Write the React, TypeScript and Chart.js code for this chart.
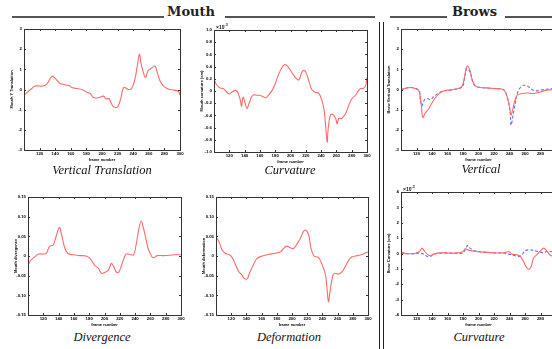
import React, { useEffect, useRef } from "react";
import { Chart, registerables } from "chart.js";
Chart.register(...registerables);

// ---------- data ----------
const xTickMin = 100;
const xTickMax = 300;
const xTickStep = 20;

// Mouth – Vertical Translation
const mvFrames = [100,110,114,124,129,136,140,146,150,155,159,161,168,174,180,185,189,195,202,205,209,212,215,220,224,228,234,238,242,245,248,250,254,256,259,264,268,270,274,279,285,292,298,300];
const mvValues = [-0.28,0.05,0.17,0.17,0.26,0.66,0.55,0.30,0.26,0.21,0.17,0.10,0.05,0,-0.12,-0.20,-0.40,-0.41,-0.33,-0.46,-0.46,-0.69,-0.86,-0.86,-0.45,0.10,0,0.05,0.46,1.12,1.75,1.29,0.71,0.60,0.93,1.07,1.16,0.96,0.46,0.17,0.03,-0.03,-0.10,-0.28];

// Mouth – Curvature (x10^-3)
const mcFrames = [100,103,108,112,117,120,123,128,131,134,136,138,141,143,146,149,152,156,160,165,168,171,176,180,184,189,192,195,200,204,208,211,215,218,221,225,228,232,237,241,244,246,248,249,252,255,259,261,263,267,272,276,280,285,289,292,295,298,300];
const mcValues = [0.20,0.11,0.05,0.04,-0.02,-0.05,-0.02,0.01,-0.02,-0.13,-0.25,-0.10,-0.21,-0.29,-0.20,-0.10,-0.06,-0.07,-0.07,-0.10,-0.11,-0.07,0.01,0.12,0.26,0.39,0.43,0.42,0.34,0.26,0.20,0.18,0.31,0.34,0.28,0.12,0.02,-0.02,-0.04,-0.15,-0.32,-0.59,-0.84,-0.65,-0.40,-0.38,-0.45,-0.54,-0.45,-0.45,-0.37,-0.24,-0.13,-0.07,0.01,0.04,0.04,0.08,0.22];

// Brows – Vertical (red = left, blue = right)
const bvRedFrames = [100,106,112,118,123,126,128,131,136,142,149,155,161,168,174,179,182,184,186,189,192,196,202,211,220,228,233,237,240,242,244,247,250,256,263,271,280,288,300];
const bvRedValues = [0,0.05,0.10,0.05,-0.07,-0.69,-1.39,-1.19,-0.94,-0.53,-0.20,-0.07,-0.03,0,0.05,0.17,0.63,1.04,1.16,0.96,0.46,0.17,0.10,0.08,0.05,0.03,-0.03,-0.36,-0.86,-1.27,-1.02,-0.53,-0.28,-0.20,-0.17,-0.20,-0.12,-0.03,0];
const bvBlueFrames = [100,112,123,125,127,130,134,138,142,149,155,168,179,182,185,189,192,196,202,220,233,238,241,242,245,250,254,258,263,269,275,284,300];
const bvBlueValues = [0,0.10,-0.03,-0.53,-0.83,-0.53,-0.45,-0.50,-0.36,-0.17,-0.07,0,0.13,0.55,1.04,0.88,0.46,0.17,0.10,0.05,-0.03,-0.53,-1.19,-1.77,-1.19,-0.20,0.10,0.21,0.17,0,-0.07,0,0.05];

// Mouth – Divergence
const mdFrames = [100,104,109,114,120,124,128,133,136,141,144,148,152,159,168,176,181,187,192,196,200,205,209,212,216,219,224,228,233,238,242,245,248,251,254,257,262,265,269,277,286,292,300];
const mdValues = [-0.023,-0.010,-0.002,0.005,0.005,0.007,0.024,0.028,0.045,0.073,0.053,0.021,0.007,0.003,0.001,0,-0.006,-0.023,-0.031,-0.044,-0.042,-0.036,-0.019,-0.027,-0.042,-0.040,-0.014,0.005,0.004,0.003,0.036,0.070,0.089,0.070,0.045,0.019,-0.002,-0.004,0.001,0.001,0.002,0.003,0.003];

// Mouth – Deformation
const mfFrames = [100,104,108,112,118,122,125,130,134,137,141,144,150,154,161,169,178,185,189,193,198,202,207,211,215,218,222,225,229,235,239,244,246,248,250,254,257,261,266,270,275,279,286,292,300];
const mfValues = [0.049,0.036,0.015,0.007,0.003,-0.006,-0.019,-0.040,-0.048,-0.057,-0.058,-0.044,-0.019,-0.006,0,0.004,0.007,0.011,0.019,0.025,0.021,0.019,0.032,0.045,0.062,0.066,0.053,0.019,0,-0.004,-0.019,-0.048,-0.082,-0.116,-0.090,-0.048,-0.044,-0.046,-0.040,-0.027,-0.010,-0.002,0.001,0.004,0.011];

// Brows – Curvature (x10^-3)
const bcRedFrames = [100,106,112,118,124,127,130,134,138,142,149,157,166,172,179,183,187,196,207,220,232,239,241,243,250,254,258,262,265,268,271,275,280,284,288,293,300];
const bcRedValues = [0.09,0,-0.02,0,0.13,0.35,0.17,-0.04,-0.15,-0.04,0.04,0.04,0.02,0.04,0.09,0.30,0.22,0.13,0.09,0.04,0.04,0.13,0.06,-0.04,-0.09,-0.19,-0.52,-0.91,-1.02,-0.84,-0.30,-0.09,0.17,0.35,0.17,-0.13,-0.19];
const bcBlueFrames = [100,112,118,124,129,134,138,142,155,168,177,181,186,189,196,207,220,232,239,243,252,256,260,267,273,280,284,288,300];
const bcBlueValues = [0.02,-0.02,0,0.02,-0.04,-0.19,-0.19,-0.04,0.02,0.02,0,0.09,0.52,0.35,0.17,0.09,0.04,0.04,-0.04,-0.09,-0.19,-0.09,0.17,0.24,0.17,0.09,0.04,0.13,0.09];

const headings = ["Mouth", "Brows"];
const captions = ["Vertical Translation", "Curvature", "Vertical", "Divergence", "Deformation", "Curvature"];
const yTitles = ["Mouth Y Translation", "Mouth curvature (cm)", "Brow Vertical Translation", "Mouth divergence", "Mouth deformation", "Brow Curvature (cm)"];
const xTitle = "frame number";

// ---------- styling ----------
const RED = "#ff6a6a";
const BLUE = "#6a6aff";
const L = 15, T = 8, R = 6, B = 12;

const framePlugin = {
  id: "frameBox",
  afterDraw(chart: any) {
    const { ctx, chartArea: a, scales } = chart;
    const x = scales.x, y = scales.y;
    ctx.save();
    ctx.strokeStyle = "#333";
    ctx.lineWidth = 1;
    ctx.strokeRect(Math.round(a.left) + 0.5, Math.round(a.top) + 0.5, Math.round(a.right - a.left), Math.round(a.bottom - a.top));
    ctx.beginPath();
    x.ticks.forEach((t: any) => {
      const p = Math.round(x.getPixelForValue(t.value)) + 0.5;
      ctx.moveTo(p, a.bottom); ctx.lineTo(p, a.bottom - 2);
      ctx.moveTo(p, a.top); ctx.lineTo(p, a.top + 2);
    });
    y.ticks.forEach((t: any) => {
      const p = Math.round(y.getPixelForValue(t.value)) + 0.5;
      ctx.moveTo(a.left, p); ctx.lineTo(a.left + 2, p);
      ctx.moveTo(a.right, p); ctx.lineTo(a.right - 2, p);
    });
    ctx.stroke();
    ctx.restore();
  },
};

function series(frames: number[], values: number[], color: string, dashed = false) {
  return {
    data: frames.map((f, i) => ({ x: f, y: values[i] })),
    borderColor: color,
    borderWidth: 1.1,
    borderDash: dashed ? [3, 2] : [],
    pointRadius: 0,
    tension: 0.35,
    fill: false,
  };
}

type PanelProps = {
  x0: number; y0: number; x1: number; y1: number;
  datasets: any[]; yMin: number; yMax: number; yStep: number; yTitle: string; exp?: boolean;
};

function Panel({ x0, y0, x1, y1, datasets, yMin, yMax, yStep, yTitle, exp }: PanelProps) {
  const ref = useRef<HTMLCanvasElement | null>(null);
  const W = x1 - x0 + L + R;
  const H = y1 - y0 + T + B;
  useEffect(() => {
    if (!ref.current) return;
    const tickFont = { size: 4.3, weight: "bold" as const, family: "Liberation Sans" };
    const titleFont = { size: 4, weight: "bold" as const, family: "Liberation Sans" };
    const chart = new Chart(ref.current, {
      type: "line",
      data: { datasets },
      options: {
        animation: false,
        responsive: false,
        devicePixelRatio: 1,
        layout: { padding: { left: 0, top: T, right: R, bottom: 0 } },
        plugins: { legend: { display: false }, tooltip: { enabled: false } },
        scales: {
          x: {
            type: "linear",
            min: xTickMin,
            max: xTickMax,
            grid: { display: false, drawTicks: false },
            border: { display: false },
            ticks: {
              stepSize: xTickStep,
              font: tickFont,
              color: "#000",
              padding: 1.5,
              maxRotation: 0,
              autoSkip: false,
              callback: (v: any) => (v === xTickMin ? "" : String(v)),
            },
            title: { display: true, text: xTitle, font: titleFont, color: "#000", padding: 0 },
            afterFit: (s: any) => { s.height = B; },
          },
          y: {
            type: "linear",
            min: yMin,
            max: yMax,
            grid: { display: false, drawTicks: false },
            border: { display: false },
            ticks: { stepSize: yStep, font: tickFont, color: "#000", padding: 2, autoSkip: false },
            title: { display: true, text: yTitle, font: titleFont, color: "#000", padding: 0 },
            afterFit: (s: any) => { s.width = L; },
          },
        },
      },
      plugins: [framePlugin],
    } as any);
    return () => chart.destroy();
  }, []);
  return (
    <>
      <canvas
        ref={ref}
        width={W}
        height={H}
        style={{ position: "absolute", left: x0 - L, top: y0 - T, width: W, height: H }}
      />
      {exp && (
        <span style={{ position: "absolute", left: x0 + 2, top: y0 - 8, fontSize: 5, fontFamily: "Liberation Sans", fontWeight: "bold", color: "#111", lineHeight: "6px" }}>
          ×10<sup style={{ fontSize: 3.5 }}>-3</sup>
        </span>
      )}
    </>
  );
}

const captionStyle = (cx: number, top: number): React.CSSProperties => ({
  position: "absolute",
  left: cx - 80,
  width: 160,
  top,
  textAlign: "center",
  fontFamily: "Liberation Serif",
  fontStyle: "italic",
  fontSize: 12.5,
  lineHeight: "16px",
  color: "#111",
  whiteSpace: "nowrap",
});

const rule = (left: number, width: number): React.CSSProperties => ({
  position: "absolute", left, width, top: 16, height: 1.5, background: "#555",
});

const headStyle = (left: number): React.CSSProperties => ({
  position: "absolute", left, top: 4, fontFamily: "DejaVu Serif", fontWeight: "bold",
  fontSize: 13, lineHeight: "16px", color: "#222", whiteSpace: "nowrap",
});

export default function App() {
  return (
    <div style={{ position: "fixed", left: 0, top: 0, width: 552, height: 349, overflow: "hidden", background: "#fff" }}>
      {/* headings */}
      <div style={rule(12, 152)} />
      <div style={headStyle(167)}>{headings[0]}</div>
      <div style={rule(225, 150)} />
      <div style={rule(390, 57)} />
      <div style={headStyle(452)}>{headings[1]}</div>
      <div style={rule(505, 47)} />
      {/* double separator */}
      <div style={{ position: "absolute", left: 379, top: 22, width: 1.2, height: 330, background: "#222" }} />
      <div style={{ position: "absolute", left: 383, top: 22, width: 1.2, height: 330, background: "#222" }} />

      <Panel x0={24} y0={29} x1={180} y1={150} datasets={[series(mvFrames, mvValues, RED)]} yMin={-3} yMax={3} yStep={1} yTitle={yTitles[0]} />
      <Panel x0={214} y0={30} x1={367} y1={152} datasets={[series(mcFrames, mcValues, RED)]} yMin={-1} yMax={1} yStep={0.2} yTitle={yTitles[1]} exp />
      <Panel x0={401} y0={29} x1={556} y1={150} datasets={[series(bvRedFrames, bvRedValues, RED), series(bvBlueFrames, bvBlueValues, BLUE, true)]} yMin={-3} yMax={3} yStep={1} yTitle={yTitles[2]} />
      <Panel x0={28} y0={197} x1={181} y1={315} datasets={[series(mdFrames, mdValues, RED)]} yMin={-0.15} yMax={0.15} yStep={0.05} yTitle={yTitles[3]} />
      <Panel x0={216} y0={197} x1={368} y1={315} datasets={[series(mfFrames, mfValues, RED)]} yMin={-0.15} yMax={0.15} yStep={0.05} yTitle={yTitles[4]} />
      <Panel x0={401} y0={192} x1={556} y1={315} datasets={[series(bcRedFrames, bcRedValues, RED), series(bcBlueFrames, bcBlueValues, BLUE, true)]} yMin={-4} yMax={4} yStep={1} yTitle={yTitles[5]} exp />

      <div style={captionStyle(102, 162)}>{captions[0]}</div>
      <div style={captionStyle(290, 162)}>{captions[1]}</div>
      <div style={captionStyle(481, 161)}>{captions[2]}</div>
      <div style={captionStyle(102, 329)}>{captions[3]}</div>
      <div style={captionStyle(289, 329)}>{captions[4]}</div>
      <div style={captionStyle(479, 329)}>{captions[5]}</div>
    </div>
  );
}
